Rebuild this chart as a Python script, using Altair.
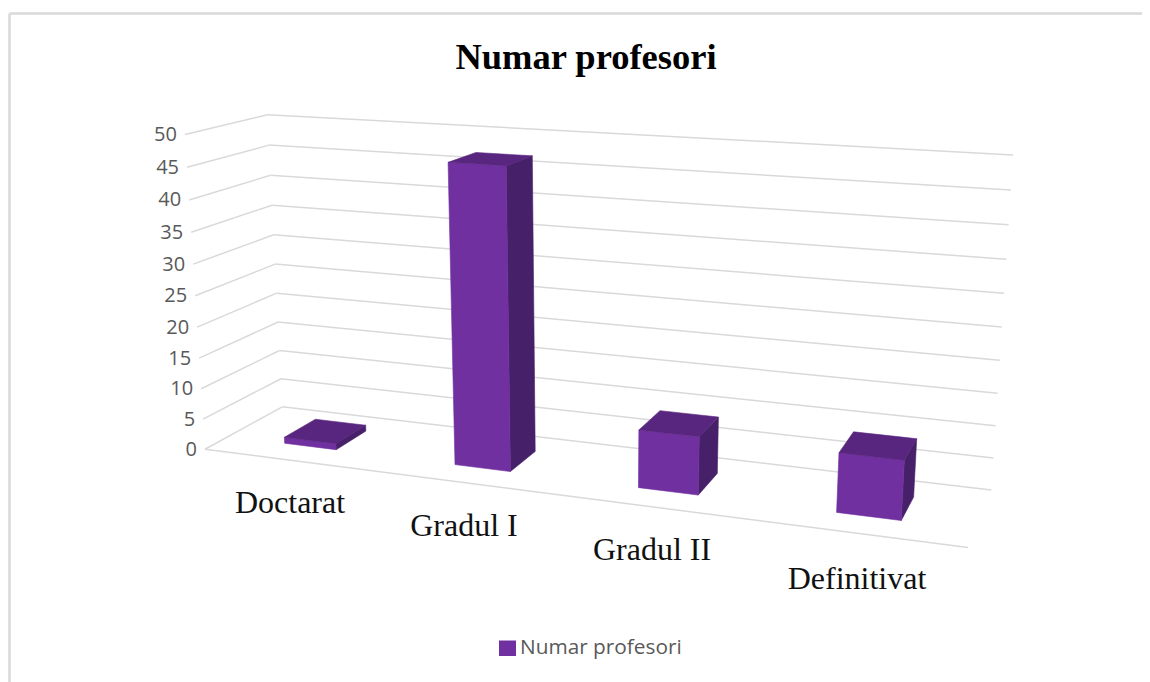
import numpy as np
import pandas as pd
import altair as alt

# ---- chart values
categories = ["Doctarat", "Gradul I", "Gradul II", "Definitivat"]
values = [1, 47, 9, 9]
ticks = [0, 5, 10, 15, 20, 25, 30, 35, 40, 45, 50]
series_name = "Numar profesori"
title_text = "Numar profesori"

# ---- 3D view: (category 0..1, value 0..50, depth 0..1) -> page pixel
anchors = [
    ((0, 0, 0), (206, 449)), ((0, 50, 0), (185.7, 134.3)),
    ((0, 0, 1), (282.3, 407)), ((0, 50, 1), (267.7, 114.7)),
    ((1, 50, 1), (1013, 155)), ((1, 0, 1), (991, 490)),
    ((1, 0, 0), (968, 547.7)), ((0, 25, 0), (193.5, 296)),
    ((0, 25, 1), (275, 264)), ((1, 15, 1), (998, 393)),
]
A, b = [], []
for (x, v, z), (u, w) in anchors:
    A.append([x, v, z, 1, 0, 0, 0, 0, -u * x, -u * v, -u * z]); b.append(u)
    A.append([0, 0, 0, 0, x, v, z, 1, -w * x, -w * v, -w * z]); b.append(w)
p = np.linalg.lstsq(np.array(A, float), np.array(b, float), rcond=None)[0]
P = np.append(p, 1).reshape(3, 4)


def proj(x, v, z):
    h = P @ np.array([x, v, z, 1.0])
    return float(h[0] / h[2]), float(h[1] / h[2])


# ---- grid
grid_rows = []
for t in ticks:
    a = proj(0, t, 0); c = proj(0, t, 1); d = proj(1, t, 1)
    grid_rows.append(dict(x=a[0], y=a[1], x2=c[0], y2=c[1]))
    grid_rows.append(dict(x=c[0], y=c[1], x2=d[0], y2=d[1]))
a = proj(0, 0, 0); d = proj(1, 0, 0)
grid_rows.append(dict(x=a[0], y=a[1], x2=d[0], y2=d[1]))


# ---- bars as convex polygons, turned into x-ordered area runs
def envelope(pts):
    xs = sorted({round(q[0], 3) for q in pts})
    rows = []
    n = len(pts)
    for xv in xs:
        ys = []
        for k in range(n):
            (x0, y0), (x1, y1) = pts[k], pts[(k + 1) % n]
            lo, hi = min(x0, x1), max(x0, x1)
            if lo - 0.002 <= xv <= hi + 0.002:
                if abs(x1 - x0) < 1e-6:
                    ys += [y0, y1]
                else:
                    ys.append(y0 + (y1 - y0) * (xv - x0) / (x1 - x0))
        rows.append(dict(x=xv, y=min(ys), y2=max(ys)))
    return rows


BAR_W = 0.31 / 4
Z0, Z1 = 0.29, 0.71
front, top, side = [], [], []
for i, val in enumerate(values):
    c = (i + 0.5) / len(values)
    x0, x1 = c - BAR_W / 2, c + BAR_W / 2
    front.append(envelope([proj(x0, 0, Z0), proj(x1, 0, Z0), proj(x1, val, Z0), proj(x0, val, Z0)]))
    top.append(envelope([proj(x0, val, Z0), proj(x1, val, Z0), proj(x1, val, Z1), proj(x0, val, Z1)]))
    side.append(envelope([proj(x1, 0, Z0), proj(x1, 0, Z1), proj(x1, val, Z1), proj(x1, val, Z0)]))

xs = alt.Scale(domain=[8, 1142], nice=False, zero=False)
ys = alt.Scale(domain=[8, 682], reverse=True, nice=False, zero=False)
X = alt.X("x:Q", scale=xs, axis=None, stack=None)
Y = alt.Y("y:Q", scale=ys, axis=None, stack=None)


def face(rows, color):
    return alt.Chart(alt.Data(values=rows)).mark_area(
        color=color, stroke=color, strokeWidth=0.6, interpolate="linear", orient="vertical"
    ).encode(x=X, y=Y, y2="y2:Q")


def rules(rows, color, width):
    return alt.Chart(alt.Data(values=rows)).mark_rule(color=color, strokeWidth=width).encode(
        x=X, y=Y, x2="x2:Q", y2="y2:Q"
    )


def text(rows, font, size, color, align="center", weight="normal"):
    return alt.Chart(alt.Data(values=rows)).mark_text(
        font=font, fontSize=size, color=color, align=align, baseline="middle", fontWeight=weight
    ).encode(x=X, y=Y, text="t:N")


frame = rules([dict(x=9.5, y=13.5, x2=1142, y2=13.5), dict(x=9.5, y=13.5, x2=9.5, y2=682)], "#D9D9D9", 2.5)
grid = rules(grid_rows, "#D9D9D9", 1.5)

tick_rows = []
for t in ticks:
    u, w = proj(0, t, 0)
    tick_rows.append(dict(x=u - 8, y=w + 0.5, t=str(t)))
tick_text = text(tick_rows, "Open Sans", 20, "#595959", align="right")

cat_pos = [(290, 503), (464, 526), (652, 550), (857, 579)]
cat_text = text([dict(x=q[0], y=q[1], t=c) for q, c in zip(cat_pos, categories)],
                "Liberation Serif", 32, "#111111")
title = text([dict(x=586, y=58, t=title_text)], "Liberation Serif", 36.5, "#000000", weight="bold")
legend_box = alt.Chart(alt.Data(values=[dict(x=499, x2=516, y=640.5, y2=656)])).mark_rect(color="#7030A0").encode(
    x=X, x2="x2:Q", y=Y, y2="y2:Q")
legend_text = text([dict(x=520, y=647.5, t=series_name)], "Open Sans", 20.8, "#595959", align="left")

bars = [face(r, "#47206A") for r in side] + [face(r, "#7030A0") for r in front] + [face(r, "#59267F") for r in top]

chart = alt.layer(
    frame, grid, tick_text, *bars, cat_text, title, legend_box, legend_text,
).properties(
    width=1134, height=674, padding=0, autosize=alt.AutoSizeParams(type="none"),
    background="white",
).configure_view(stroke=None)

chart.save("out.html", embed_options={"renderer": "svg", "actions": False})
